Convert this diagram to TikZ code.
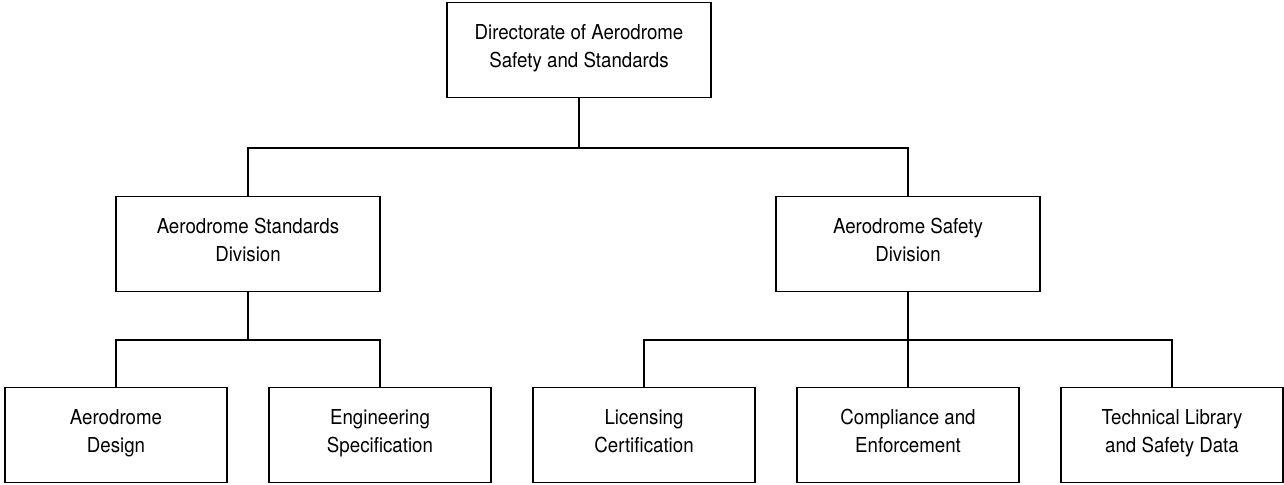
\documentclass[tikz,border=0pt]{standalone}
\usepackage{fontspec}
\setmainfont[FakeStretch=0.91]{TeX Gyre Heros}
\usepackage{tikz}

\begin{document}
\begin{tikzpicture}[x=0.02cm, y=-0.02cm, line width=1.1pt,
    unit/.style={draw, align=center, font=\fontsize{11.7}{15.5}\selectfont,
      inner sep=0pt, execute at begin node=\strut, execute at end node=\strut},
    bigunit/.style={unit, minimum width=5.28cm, minimum height=1.9cm},
    smallunit/.style={unit, minimum width=4.44cm, minimum height=1.9cm}]
  \useasboundingbox (0,0) rectangle (1284,484);

  \node[bigunit] (dir) at (579,50) {Directorate of Aerodrome\\Safety and Standards};

  \node[bigunit] (stddiv) at (248,244) {Aerodrome Standards\\Division};
  \node[bigunit] (safediv) at (908,244) {Aerodrome Safety\\Division};

  \node[smallunit] (design) at (116,435) {Aerodrome\\Design};
  \node[smallunit] (eng) at (380,435) {Engineering\\Specification};
  \node[smallunit] (lic) at (644,435) {Licensing\\Certification};
  \node[smallunit] (comp) at (908,435) {Compliance and\\Enforcement};
  \node[smallunit] (lib) at (1172,435) {Technical Library\\and Safety Data};

  \draw (dir.south) -- +(0,50) -| (stddiv.north);
  \draw (dir.south) -- +(0,50) -| (safediv.north);

  \draw (stddiv.south) -- +(0,48) -| (design.north);
  \draw (stddiv.south) -- +(0,48) -| (eng.north);

  \draw (safediv.south) -- (comp.north);
  \draw (safediv.south) -- +(0,48) -| (lic.north);
  \draw (safediv.south) -- +(0,48) -| (lib.north);
\end{tikzpicture}
\end{document}
